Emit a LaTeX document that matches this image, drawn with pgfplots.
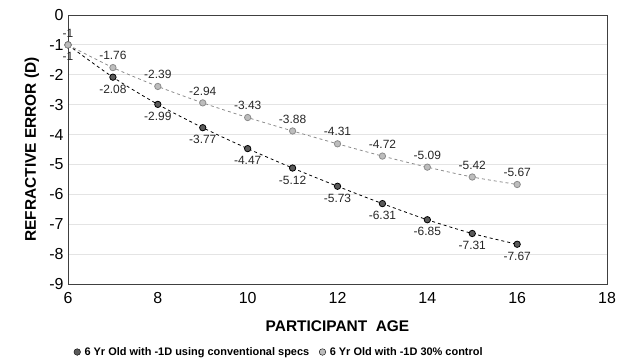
\documentclass[border=0pt]{standalone}
\usepackage{pgfplots}
\pgfplotsset{compat=1.18}
\usepackage{fontspec}
\setmainfont{Liberation Sans}
\definecolor{darkpt}{HTML}{5A5A5A}
\definecolor{lightpt}{HTML}{BDBDBD}
\definecolor{gridc}{HTML}{E4E4E4}
\begin{document}
\begin{tikzpicture}[x=1bp,y=1bp]
\begin{axis}[
  at={(68bp,79bp)}, anchor=south west,
  scale only axis, width=539bp, height=269bp,
  xmin=6, xmax=18, ymin=-9, ymax=0,
  xtick={6,8,...,18}, ytick={-9,-8,...,0},
  /pgf/number format/assume math mode=true,
  tick label style={font=\fontsize{16}{16}\selectfont},
  xticklabel style={yshift=-5bp},
  yticklabel style={xshift=-1bp},
  tick style={draw=none},
  ymajorgrids, grid style={gridc, line width=0.8pt},
  axis line style={draw=black!75, line width=0.8pt},
  xlabel={\bfseries PARTICIPANT\ \ AGE},
  ylabel={\bfseries REFRACTIVE ERROR (D)},
  label style={font=\fontsize{15.5}{15.5}\selectfont},
  xlabel style={at={(axis description cs:0.5,0)}, anchor=center, yshift=-42bp},
  ylabel style={at={(axis description cs:0,0.5)}, anchor=center, rotate=0, xshift=0bp, yshift=36bp},
  legend style={at={(0.392,0)}, anchor=center, yshift=-68bp, draw=none, legend columns=2,
    font=\fontsize{11}{12}\selectfont\bfseries, column sep=2bp,
    /tikz/every even column/.append style={column sep=8bp}},
  legend cell align=left,
  nodes near coords, point meta=explicit symbolic,
  every node near coord/.append style={font=\fontsize{12}{12}\selectfont, text=black!85},
  clip=false,
]
\addlegendimage{only marks, mark=*, mark size=3.3pt, mark options={draw=none, fill=darkpt}}
\addlegendentry{6 Yr Old with -1D using conventional specs}
\addlegendimage{only marks, mark=*, mark size=3.3pt, mark options={draw=none, fill=lightpt}}
\addlegendentry{6 Yr Old with -1D 30\% control}
\addplot[black, dashed, line width=0.8pt, smooth, mark=*, mark size=3.2pt, forget plot,
  mark options={solid, draw=none, fill=darkpt},
  every node near coord/.append style={anchor=north, yshift=-4bp}]
  table[meta=l] {
x y l
6 -1 -1
7 -2.08 -2.08
8 -2.99 -2.99
9 -3.77 -3.77
10 -4.47 -4.47
11 -5.12 -5.12
12 -5.73 -5.73
13 -6.31 -6.31
14 -6.85 -6.85
15 -7.31 -7.31
16 -7.67 -7.67
};
\addplot[black!45, dashed, line width=0.8pt, smooth, mark=*, mark size=3.2pt, forget plot,
  mark options={solid, draw=none, fill=lightpt},
  every node near coord/.append style={anchor=south, yshift=4bp}]
  table[meta=l] {
x y l
6 -1 -1
7 -1.76 -1.76
8 -2.39 -2.39
9 -2.94 -2.94
10 -3.43 -3.43
11 -3.88 -3.88
12 -4.31 -4.31
13 -4.72 -4.72
14 -5.09 -5.09
15 -5.42 -5.42
16 -5.67 -5.67
};
\end{axis}
\path[use as bounding box] (0,0) rectangle (625,363);
\end{tikzpicture}
\end{document}
